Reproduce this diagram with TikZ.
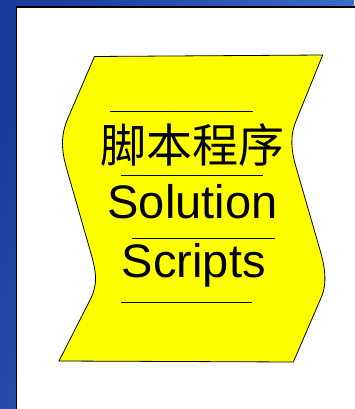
\documentclass[tikz,border=0pt]{standalone}
\usepackage{fontspec}
\setmainfont{Liberation Sans}
\newfontfamily\cjk{Noto Sans CJK SC}
\definecolor{bgdark}{RGB}{26,60,158}
\definecolor{bglight}{RGB}{72,122,216}
\definecolor{tapeyellow}{RGB}{255,255,0}
\tikzset{
  rule/.style={draw=black,line width=0.9pt},
  latin/.style={font=\fontsize{47}{52}\selectfont,inner sep=0pt,anchor=base},
  han/.style={font=\cjk\fontsize{46}{50}\selectfont,inner sep=0pt,anchor=base},
}
\begin{document}
\begin{tikzpicture}[x=1pt,y=-1pt]
\useasboundingbox (0,0) rectangle (354,409);
% background
\shade[left color=bgdark,right color=bglight,shading angle=70] (0,0) rectangle (354,409);
\fill[white] (16.5,7) rectangle (360,415);
\draw[black,line width=1.6pt] (16.5,420) -- (16.5,7) -- (360,7);
% tape shape
\draw[fill=tapeyellow,draw=black,line width=0.8pt]
  (94.5,56.5) -- (322.7,55)
  -- (296,121) .. controls (289.6,136.8) and (291.3,150.7) .. (296,167)
  -- (320,250) .. controls (324.7,266.3) and (327.7,282.4) .. (321,298)
  -- (293.3,362) -- (59,361)
  -- (90,300) .. controls (99.1,282.2) and (95.5,269.2) .. (90,250)
  -- (67,170) .. controls (61.5,150.8) and (60.1,136.4) .. (68,118)
  -- cycle;
% rules
\coordinate (l1a) at (110,111.5); \coordinate (l1b) at (253,111.5);
\coordinate (l2a) at (120.5,175); \coordinate (l2b) at (263,175);
\coordinate (l3a) at (131.7,238.5); \coordinate (l3b) at (275,238.5);
\coordinate (l4a) at (120.7,302.5); \coordinate (l4b) at (252,302.5);
\draw[rule] (l1a) -- (l1b);
\draw[rule] (l2a) -- (l2b);
\draw[rule] (l3a) -- (l3b);
\draw[rule] (l4a) -- (l4b);
% texts
\node[han] (zh) at (192.5,162.5) {脚本程序};
\node[latin] (sol) at (192.5,218.5) {Solution};
\node[latin] (scr) at (193.8,277) {Scripts};
\end{tikzpicture}
\end{document}
